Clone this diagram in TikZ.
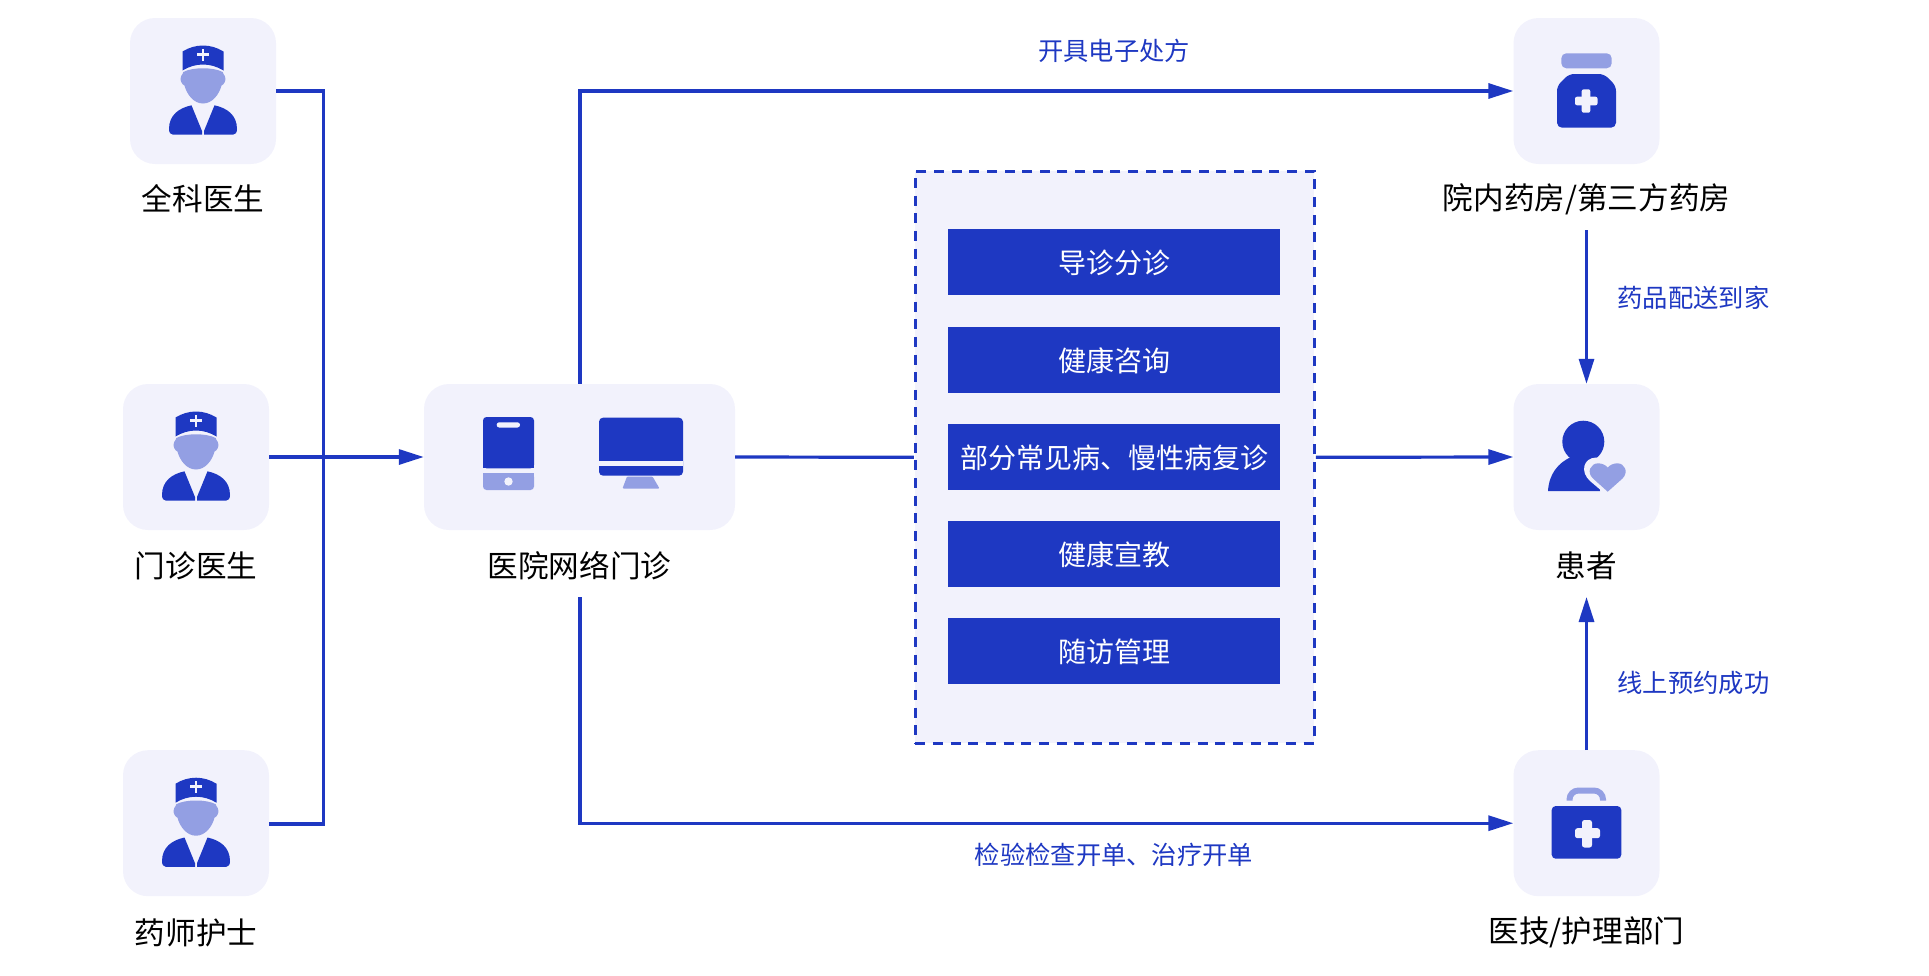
\documentclass[tikz,border=0pt]{standalone}
\usepackage{fontspec}
\setmainfont{Noto Sans CJK SC}
\usetikzlibrary{arrows.meta}
\definecolor{bl}{HTML}{1E38C2}
\definecolor{lt}{HTML}{939FE3}
\definecolor{pn}{HTML}{F2F2FC}
\tikzset{
  x=1pt,y=-1pt,
  ibox/.style={fill=pn,draw=none,rounded corners=25pt,minimum width=146pt,minimum height=146pt,inner sep=0pt},
  wbox/.style={ibox,minimum width=311pt},
  panel/.style={fill=pn,draw=bl,line width=3pt,dash pattern=on 10pt off 7.65pt,inner sep=0pt,minimum width=399pt,minimum height=572pt},
  item/.style={fill=bl,text=white,inner sep=0pt,minimum width=332pt,minimum height=66pt,font=\fontsize{28}{32}\selectfont},
  itemt/.style={text=white,inner sep=0pt,font=\fontsize{28}{32}\selectfont},
  lab/.style={text=black,inner sep=0pt,font=\fontsize{30.6}{36}\selectfont},
  blab/.style={text=bl,inner sep=0pt,font=\fontsize{25.3}{30}\selectfont},
  conn/.style={draw=bl,line width=3.2pt,line join=miter},
  arr/.style={conn,-{Triangle[length=25pt,width=15pt]}},
  dk/.style={fill=bl,draw=none},
  li/.style={fill=lt,draw=none},
  cut/.style={fill=pn,draw=none}
}
\newcommand{\doctoricon}[2]{%
\begin{scope}[shift={(#1,#2)}]
  \fill[dk] (-20.5,-39.5) .. controls (-14,-43.5) and (-7,-45.5) .. (0,-45.5) .. controls (7,-45.5) and (14,-43.5) .. (20.5,-39.5) -- (20.5,-20.5) .. controls (14,-24.5) and (7,-26.5) .. (0,-26.5) .. controls (-7,-26.5) and (-14,-24.5) .. (-20.5,-20.5) -- cycle;
  \fill[cut] (-1.4,-42.5) rectangle (1.4,-30.5);
  \fill[cut] (-6,-37.9) rectangle (6,-35.1);
  \fill[li] (0,-22.7) .. controls (-8,-22.7) and (-15,-21.5) .. (-19.7,-19) -- (-20.5,-17) .. controls (-22.5,-15) and (-23,-11) .. (-21.5,-8.5) .. controls (-21,-7) and (-19.5,-6) .. (-18.5,-5.5) .. controls (-16,4) and (-9,12.5) .. (0,12.5) .. controls (9,12.5) and (16,4) .. (18.5,-5.5) .. controls (19.5,-6) and (21,-7) .. (21.5,-8.5) .. controls (23,-11) and (22.5,-15) .. (20.5,-17) -- (19.7,-19) .. controls (15,-21.5) and (8,-22.7) .. (0,-22.7) -- cycle;
  \fill[dk] (-11.5,14.3) .. controls (-24,17) and (-34,24) .. (-34,38) .. controls (-34,41.5) and (-32.5,43.7) .. (-30,43.7) -- (-1,43.7) -- (-1,40) -- cycle;
  \fill[dk] (11.5,14.3) .. controls (24,17) and (34,24) .. (34,38) .. controls (34,41.5) and (32.5,43.7) .. (30,43.7) -- (1,43.7) -- (1,40) -- cycle;
\end{scope}}
\begin{document}
\begin{tikzpicture}
\useasboundingbox (0,0) rectangle (1929,975);
% boxes
\node[ibox] (doc1) at (203,91) {};
\node[ibox] (doc2) at (196,457) {};
\node[ibox] (doc3) at (196,823.2) {};
\node[wbox] (net) at (579.5,457) {};
\node[panel] (panel) at (1114.8,457.3) {};
\node[ibox] (pharm) at (1586.5,91) {};
\node[ibox] (pat) at (1586.5,457) {};
\node[ibox] (kit) at (1586.5,823.2) {};
% items
\node[item] (i1) at (1114,262) {};
\node[item] (i2) at (1114,360) {};
\node[item] (i3) at (1114,457) {};
\node[item] (i4) at (1114,554) {};
\node[item] (i5) at (1114,651) {};
\node[itemt] at (1114,263) {导诊分诊};
\node[itemt] at (1114,360.5) {健康咨询};
\node[itemt] at (1114,457.5) {部分常见病、慢性病复诊};
\node[itemt] at (1114,555) {健康宣教};
\node[itemt] at (1114,652) {随访管理};
% labels
\node[lab] (l1) at (203,199) {全科医生};
\node[lab] (l2) at (196,566) {门诊医生};
\node[lab] (l3) at (196,932.5) {药师护士};
\node[lab] (l4) at (579.5,566) {医院网络门诊};
\node[lab] (l5) at (1586.5,199) {院内药房/第三方药房};
\node[lab] (l6) at (1586.5,566) {患者};
\node[lab] (l7) at (1586.5,932.5) {医技/护理部门};
\node[blab] (b1) at (1114,51) {开具电子处方};
\node[blab] (b2) at (1693.5,298) {药品配送到家};
\node[blab] (b3) at (1693.5,683) {线上预约成功};
\node[blab] (b4) at (1114,855) {检验检查开单、治疗开单};
% connector ends
\coordinate (busT) at (323.5,91);
\coordinate (busB) at (323.5,824);
\coordinate (netT) at (580,91);
\coordinate (netB) at (580,823.2);
\coordinate (netS) at (580,597);
\coordinate (phS) at (1586.5,230);
\coordinate (patS) at (1586.5,597);
% connectors
\draw[conn] (doc1.east) -- (busT) -- (busB) -- (doc3.east |- busB);
\draw[arr] (doc2.east) -- (net.west);
\draw[arr] (net.north -| netT) -- (netT) -- (pharm.west);
\draw[arr] (netS) -- (netB) -- (kit.west);
\draw[conn] (net.east) -- (panel.west);
\draw[arr] (panel.east) -- (pat.west);
\draw[arr] (phS) -- (pat.north);
\draw[arr] (kit.north) -- (patS);
% icons
\doctoricon{203}{91}
\doctoricon{196}{457}
\doctoricon{196}{823.2}
% tablet
\fill[dk,rounded corners=3.5pt] (483,417) -- (534,417) -- (534,468.3) -- (483,468.3) -- cycle;
\fill[dk] (483,463) rectangle (534,468.3);
\fill[li,rounded corners=3.5pt] (483,473.3) -- (534,473.3) -- (534,490) -- (483,490) -- cycle;
\fill[li] (483,473.3) rectangle (534,478);
\fill[cut,rounded corners=2.5pt] (496.7,422.3) rectangle (520,427.5);
\fill[cut] (508.5,481.5) circle (4.2);
% monitor
\fill[dk,rounded corners=4pt] (599,417.7) rectangle (683,475.7);
\fill[cut] (599,461) rectangle (683,465.7);
\fill[li,rounded corners=1pt] (627,476.5) -- (652.5,476.5) -- (659.5,488.5) -- (622.5,488.5) -- cycle;
% pharmacy bottle
\fill[li,rounded corners=5pt] (1561.3,53.3) rectangle (1611.7,68.3);
\fill[dk,rounded corners=5pt] (1569,74) -- (1604,74) -- (1616,86) -- (1616,127.7) -- (1557,127.7) -- (1557,86) -- cycle;
\fill[cut,rounded corners=2pt] (1581.7,89.3) rectangle (1590.3,112.7);
\fill[cut,rounded corners=2pt] (1575,96.7) rectangle (1597.5,105.3);
% patient
\fill[dk] (1583.3,441.7) circle (21);
\fill[dk] (1548,491) .. controls (1549,474) and (1558,463) .. (1571,457) -- (1596,457) -- (1600,491) -- cycle;
\fill[cut] (1607.7,496) -- (1590,481) .. controls (1580,472) and (1583,458) .. (1596,457.5) .. controls (1600,457.5) and (1604,459) .. (1607.7,462) .. controls (1612,459) and (1616,457.5) .. (1620,457.5) -- (1625,475) -- cycle;
\fill[li] (1607.7,491.7) -- (1593,478.5) .. controls (1586,472) and (1591,463.3) .. (1598,463.3) .. controls (1602,463.3) and (1605.5,465) .. (1607.7,467.5) .. controls (1610,465) and (1613.5,463.3) .. (1617.5,463.3) .. controls (1624.5,463.3) and (1629,472) .. (1622.5,478.5) -- cycle;
% kit
\draw[lt,line width=6pt,rounded corners=9pt] (1569.5,800.7) -- (1569.5,790.5) -- (1603,790.5) -- (1603,800.7);
\fill[dk,rounded corners=4pt] (1551.7,806) rectangle (1621.3,858.7);
\fill[cut,rounded corners=2.5pt] (1582,820) rectangle (1592,847.5);
\fill[cut,rounded corners=2.5pt] (1575,828.2) rectangle (1600,838.2);
\end{tikzpicture}
\end{document}
